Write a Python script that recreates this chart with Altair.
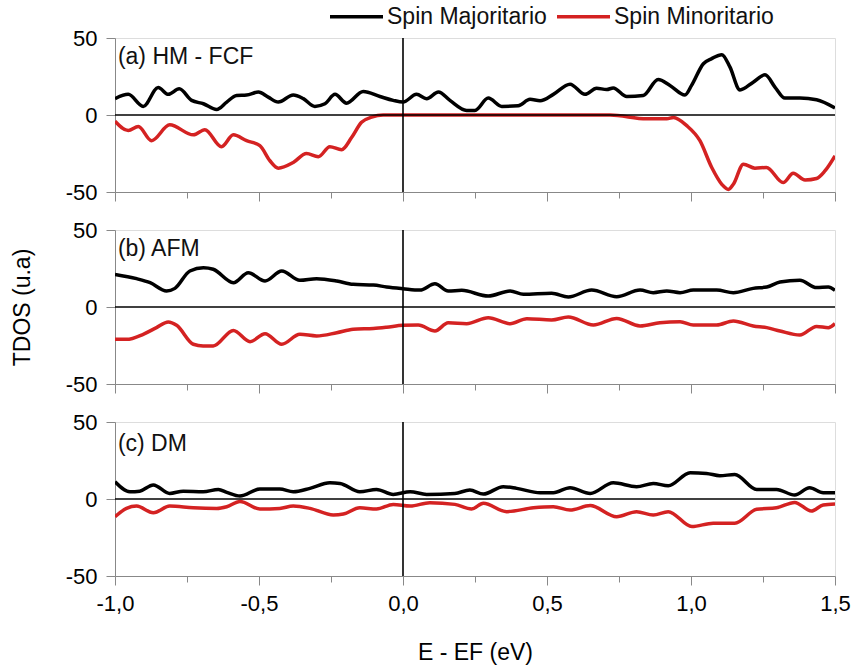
import altair as alt
import pandas as pd

# ---------------- data ----------------
series_names = ["Spin Majoritario", "Spin Minoritario"]
panel_labels = ["(a) HM - FCF", "(b) AFM", "(c) DM"]

a_maj_x = [-1.0, -0.954, -0.902, -0.850, -0.815, -0.777, -0.734, -0.693, -0.647, -0.612, -0.578, -0.543,
           -0.502, -0.468, -0.433, -0.381, -0.346, -0.306, -0.271, -0.236, -0.196, -0.138, -0.080, -0.034,
           0.0, 0.047, 0.082, 0.123, 0.163, 0.221, 0.250, 0.296, 0.343, 0.400, 0.441, 0.476, 0.522, 0.580,
           0.632, 0.672, 0.707, 0.730, 0.777, 0.834, 0.886, 0.927, 0.979, 1.002, 1.043, 1.072, 1.107, 1.135,
           1.170, 1.216, 1.257, 1.292, 1.326, 1.378, 1.436, 1.5]
a_maj_y = [10.6, 13.4, 5.6, 17.8, 13.4, 17.0, 9.5, 7.3, 3.6, 8.4, 12.7, 13.0,
           14.9, 11.6, 8.4, 13.0, 10.6, 5.6, 7.3, 13.4, 7.7, 15.3, 12.0, 9.5,
           8.4, 13.4, 10.6, 14.9, 9.5, 3.0, 3.0, 11.0, 5.6, 6.0, 10.2, 9.3, 13.4, 20.0,
           13.4, 17.4, 16.5, 17.6, 12.0, 12.7, 23.1, 19.2, 13.0, 19.2, 33.3, 36.6, 39.2, 31.2,
           16.3, 21.3, 26.1, 18.0, 11.0, 11.0, 9.9, 4.5]

a_min_x = [-1.0, -0.954, -0.919, -0.873, -0.810, -0.728, -0.688, -0.630, -0.589, -0.543, -0.497, -0.462,
           -0.433, -0.381, -0.335, -0.294, -0.254, -0.213, -0.178, -0.144, -0.109, -0.069, 0.0, 0.5,
           0.719, 0.846, 0.916, 0.939, 0.985, 1.031, 1.072, 1.107, 1.130, 1.147, 1.182, 1.222, 1.262,
           1.320, 1.355, 1.396, 1.436, 1.465, 1.5]
a_min_y = [-4.0, -10.1, -7.5, -16.7, -6.4, -12.9, -9.5, -20.6, -12.9, -16.7, -19.9, -29.7,
           -34.5, -30.8, -25.0, -27.1, -20.6, -22.5, -14.5, -4.7, -1.4, 0.0, 0.0, 0.0,
           0.0, -2.5, -2.5, -1.6, -6.9, -16.7, -34.1, -45.0, -48.3, -45.0, -31.9, -34.5, -34.1,
           -43.9, -37.8, -42.2, -41.2, -36.3, -26.5]

b_maj_x = [-1.0, -0.925, -0.878, -0.821, -0.792, -0.740, -0.693, -0.659, -0.589, -0.537, -0.479, -0.421,
           -0.358, -0.300, -0.230, -0.173, -0.103, -0.057, 0.0, 0.059, 0.111, 0.157, 0.204, 0.296,
           0.372, 0.418, 0.516, 0.574, 0.655, 0.742, 0.823, 0.869, 0.916, 0.962, 1.008, 1.089,
           1.147, 1.216, 1.263, 1.309, 1.378, 1.436, 1.477, 1.5]
b_maj_y = [21.2, 18.4, 15.8, 10.4, 12.1, 23.4, 25.5, 24.5, 15.8, 22.3, 16.9, 23.4,
           17.3, 18.4, 16.9, 14.7, 14.3, 13.0, 11.9, 11.0, 15.1, 10.4, 10.8, 7.1,
           10.4, 8.2, 8.9, 6.5, 11.0, 6.7, 11.0, 9.3, 10.4, 9.3, 11.0, 11.0,
           9.3, 12.1, 13.0, 16.2, 17.3, 12.6, 13.0, 10.8]

b_min_x = [-1.0, -0.960, -0.902, -0.856, -0.815, -0.786, -0.728, -0.694, -0.659, -0.589, -0.531, -0.479,
           -0.421, -0.358, -0.300, -0.230, -0.173, -0.103, -0.057, 0.0, 0.053, 0.111, 0.157, 0.221,
           0.296, 0.372, 0.430, 0.516, 0.574, 0.661, 0.742, 0.823, 0.892, 0.962, 1.008, 1.089,
           1.147, 1.216, 1.263, 1.309, 1.378, 1.436, 1.477, 1.5]
b_min_y = [-21.0, -21.0, -17.7, -13.4, -9.7, -11.9, -24.2, -25.3, -25.3, -15.2, -22.5, -17.3,
           -24.2, -17.7, -18.8, -16.7, -14.5, -13.9, -13.1, -11.9, -11.7, -15.6, -10.2, -10.8,
           -6.9, -10.8, -7.6, -8.4, -6.5, -11.7, -7.4, -12.3, -10.2, -9.5, -11.7, -11.7,
           -9.1, -12.3, -13.4, -15.6, -18.2, -12.6, -13.4, -10.8]

c_maj_x = [-1.0, -0.948, -0.914, -0.867, -0.810, -0.763, -0.694, -0.641, -0.612, -0.566, -0.497, -0.428,
           -0.381, -0.323, -0.254, -0.219, -0.150, -0.092, -0.034, 0.025, 0.082, 0.180, 0.232, 0.279,
           0.348, 0.395, 0.476, 0.522, 0.580, 0.650, 0.730, 0.811, 0.869, 0.921, 0.997, 1.054,
           1.100, 1.152, 1.228, 1.297, 1.360, 1.412, 1.459, 1.5]
c_maj_y = [11.2, 4.7, 5.1, 9.1, 3.6, 5.1, 4.7, 6.2, 4.3, 1.9, 6.5, 6.5,
           4.7, 6.9, 10.5, 10.1, 4.7, 6.2, 3.0, 4.7, 3.0, 3.6, 5.8, 3.2,
           8.0, 6.9, 4.1, 4.1, 7.3, 3.6, 10.5, 8.0, 10.1, 8.6, 17.0, 16.6,
           15.1, 15.9, 6.2, 6.2, 2.6, 7.3, 4.1, 4.1]

c_min_x = [-1.0, -0.960, -0.925, -0.867, -0.810, -0.728, -0.647, -0.612, -0.566, -0.497, -0.428, -0.381,
           -0.323, -0.242, -0.207, -0.150, -0.092, -0.034, 0.025, 0.093, 0.180, 0.238, 0.279, 0.360,
           0.453, 0.522, 0.580, 0.650, 0.742, 0.811, 0.869, 0.921, 1.003, 1.077, 1.152, 1.228,
           1.297, 1.360, 1.418, 1.459, 1.5]
c_min_y = [-11.5, -6.1, -4.6, -8.9, -4.6, -5.7, -6.1, -5.0, -1.7, -6.5, -6.1, -4.6,
           -6.1, -10.4, -9.8, -5.7, -6.5, -3.5, -4.6, -2.4, -3.5, -6.5, -2.8, -8.2,
           -5.7, -5.0, -7.2, -4.3, -11.5, -8.2, -10.4, -8.2, -17.9, -15.7, -15.7, -6.7,
           -5.7, -2.2, -7.8, -3.9, -3.3]

x_tick_values = [-1.0, -0.75, -0.5, -0.25, 0.0, 0.25, 0.5, 0.75, 1.0, 1.25, 1.5]
y_tick_values = [-50, -25, 0, 25, 50]

FONT = "Liberation Sans"
RED = "#d42222"


def frame(xs, ys, name):
    return pd.DataFrame({"x": xs, "y": ys, "spin": name})


panels = [
    pd.concat([frame(a_maj_x, a_maj_y, series_names[0]), frame(a_min_x, a_min_y, series_names[1])]),
    pd.concat([frame(b_maj_x, b_maj_y, series_names[0]), frame(b_min_x, b_min_y, series_names[1])]),
    pd.concat([frame(c_maj_x, c_maj_y, series_names[0]), frame(c_min_x, c_min_y, series_names[1])]),
]
label_y = [33, 33, 31]

x_label_expr = ("abs(datum.value*2 - round(datum.value*2)) > 0.01 ? '' : "
                "(datum.value < 0 ? '-' : '') + replace(format(abs(datum.value), '.1f'), '.', ',')")
y_label_expr = ("abs(datum.value) == 25 ? '' : (datum.value < 0 ? '-' : '') + format(abs(datum.value), 'd')")

x_tick_size = {"condition": {"test": "abs(datum.value*2 - round(datum.value*2)) < 0.01", "value": 9}, "value": 6}
y_tick_size = {"condition": {"test": "abs(datum.value) == 25", "value": 6}, "value": 9}


def make_panel(i):
    bottom = i == 2
    xaxis = alt.Axis(values=x_tick_values, labels=bottom, labelExpr=x_label_expr, tickSize=x_tick_size,
                     title="E - EF (eV)" if bottom else None, labelFontSize=22, titleFontSize=23,
                     titleFontWeight="normal", titlePadding=27, labelPadding=8, labelFlush=False,
                     grid=False)
    yaxis = alt.Axis(values=y_tick_values, labelExpr=y_label_expr, tickSize=y_tick_size,
                     title="TDOS (u.a)" if i == 1 else None, labelFontSize=22, titleFontSize=23,
                     titleFontWeight="normal", titlePadding=31, labelPadding=9, grid=False)
    lines = alt.Chart(panels[i]).mark_line(strokeWidth=3.5, interpolate="monotone", clip=True).encode(
        x=alt.X("x:Q", scale=alt.Scale(domain=[-1, 1.5], nice=False, zero=False), axis=xaxis),
        y=alt.Y("y:Q", scale=alt.Scale(domain=[-50, 50], nice=False), axis=yaxis),
        color=alt.Color("spin:N", scale=alt.Scale(domain=series_names, range=["#000000", RED]),
                        legend=alt.Legend(title=None, orient="none", direction="horizontal",
                                          legendX=213, legendY=-50, symbolType="stroke",
                                          symbolSize=2809, symbolStrokeWidth=3.5, labelFontSize=23,
                                          labelFont=FONT, labelColor="#111111", columnPadding=3,
                                          labelOffset=2, labelLimit=400)),
        order="x:Q",
    )
    zero = pd.DataFrame({"v": [0.0]})
    hrule = alt.Chart(zero).mark_rule(color="black", strokeWidth=1.6).encode(y="v:Q")
    vrule = alt.Chart(zero).mark_rule(color="black", strokeWidth=1.6).encode(x="v:Q")
    txt = alt.Chart(pd.DataFrame({"t": [panel_labels[i]]})).mark_text(
        align="left", baseline="alphabetic", fontSize=23, font=FONT, color="#111111"
    ).encode(x=alt.datum(-0.99), y=alt.datum(label_y[i]), text="t:N")
    return alt.layer(lines, hrule, vrule, txt).properties(width=720, height=154)


chart = alt.vconcat(make_panel(0), make_panel(1), make_panel(2), spacing=14).resolve_scale(
    color="shared"
).properties(
    padding={"left": 10, "top": -12, "right": 3, "bottom": 2}
).configure_view(
    stroke="black", strokeWidth=2
).configure_axis(
    domainColor="black", domainWidth=2, tickColor="black", tickWidth=2, grid=False,
    labelFont=FONT, titleFont=FONT, labelColor="#111111", titleColor="#111111"
).configure(background="white")

chart.save("out.html", embed_options={"renderer": "svg", "actions": False})
